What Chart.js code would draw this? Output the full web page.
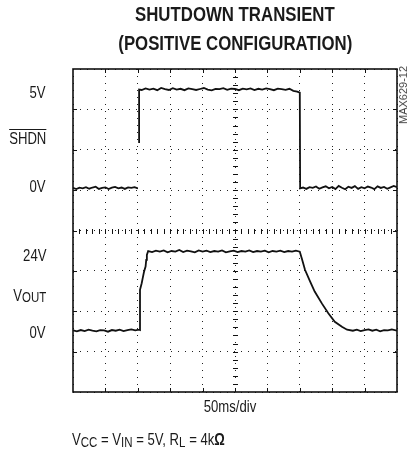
<!DOCTYPE html>
<html>
<head>
<meta charset="utf-8">
<script src="https://cdn.jsdelivr.net/npm/chart.js@4.4.0/dist/chart.umd.min.js"></script>
<style>
  html, body { margin: 0; padding: 0; background: #fff; }
  #wrap { position: relative; width: 412px; height: 454px; overflow: hidden; }
  canvas { position: absolute; left: 0; top: 0; }
  .txt { position: absolute; white-space: nowrap; font-family: "Liberation Sans", Arial, sans-serif; color: #1a1a1a; }
  .ctr { text-align: center; }
  .ctr span { display: inline-block; transform-origin: 50% 50%; }
  .lab { right: 366px; font-size: 16px; line-height: 16px; transform-origin: 100% 50%; transform: scaleX(.82); }
  .sub { font-size: 14px; position: relative; top: 2px; }
</style>
</head>
<body>
<div id="wrap">
  <canvas id="scope" width="412" height="454"></canvas>

  <div class="txt ctr" style="left:35px;width:400px;top:4px;font:bold 20px/20px 'Liberation Sans',Arial,sans-serif;"><span style="transform:scaleX(.84)">SHUTDOWN TRANSIENT</span></div>
  <div class="txt ctr" style="left:35px;width:400px;top:33px;font:bold 20px/20px 'Liberation Sans',Arial,sans-serif;"><span style="transform:scaleX(.84)">(POSITIVE CONFIGURATION)</span></div>

  <div class="txt lab" style="top:85px">5V</div>
  <div class="txt lab" style="top:131px;text-decoration:overline;text-decoration-thickness:1px;">SHDN</div>
  <div class="txt lab" style="top:179px">0V</div>
  <div class="txt lab" style="top:248px">24V</div>
  <div class="txt lab" style="top:288px">V<span class="sub" style="top:1px">OUT</span></div>
  <div class="txt lab" style="top:325px">0V</div>

  <div class="txt" style="left:398px;top:95px;font-size:11px;line-height:11px;color:#444;transform-origin:0 0;transform:rotate(-90deg) translate(-50%,0);">MAX629-12</div>

  <div class="txt ctr" style="left:30px;width:400px;top:399px;font-size:16px;line-height:16px;"><span style="transform:scaleX(.82)">50ms/div</span></div>
  <div class="txt" style="left:72px;top:432px;font-size:16px;line-height:16px;transform-origin:0 50%;transform:scaleX(.82);">V<span class="sub">CC</span> = V<span class="sub">IN</span> = 5V, R<span class="sub">L</span> = 4k<b>Ω</b></div>
</div>

<script>
// scope shot: 10 x 8 divisions, 50 ms/div
const X_MIN = 0, X_MAX = 500, X_STEP = 50;
const Y_DIVS = 8;

// SHDN channel (volts), trace ground sits at 5.05 div
const SHDN_ZERO_DIV = 5.045;
const SHDN_V_PER_DIV = 2.045;
const shdnTime = [
  0, 5, 10, 15, 20, 25, 30, 35, 40, 45, 50, 55, 60, 65, 70, 75, 80, 85, 90, 95, 100,
  101,
  102, 102,
  106, 112, 118, 124, 130, 136, 142, 148, 154, 160, 166, 172, 178, 184, 190, 196, 202, 208,
  214, 220, 226, 232, 238, 244, 250, 256, 262, 268, 274, 280, 286, 292, 298, 304, 310, 316,
  322, 328, 334, 340, 346, 350,
  350.5,
  355, 360, 365, 370, 375, 380, 385, 390, 395, 400, 405, 410, 415, 420, 425, 430, 435, 440,
  445, 450, 455, 460, 465, 470, 475, 480, 485, 490, 495, 500
];
const shdnVolts = [
  0.02, -0.04, 0.03, 0, 0.06, -0.02, 0.04, 0.08, -0.03, 0.02, 0.05, -0.04, 0.03, 0.07, 0, 0.04, -0.03, 0.05, 0.02, 0.06, 0,
  null,
  2.3, 5.0,
  4.98, 5.06, 5.0, 5.05, 4.97, 5.08, 5.02, 4.98, 5.07, 5.0, 5.04, 4.97, 5.06, 5.02, 4.98, 5.03, 5.08, 5.0,
  4.96, 5.04, 5.02, 5.07, 4.99, 5.05, 5.03, 4.97, 5.05, 5.01, 5.06, 4.98, 5.04, 5.0, 5.06, 5.02, 4.97, 5.05,
  5.02, 4.99, 5.04, 4.94, 4.9, 4.85,
  0.0,
  0.04, -0.03, 0.06, 0.02, 0.09, -0.02, 0.05, 0.1, 0, 0.07, -0.04, 0.12, 0.03, -0.05, 0.08, 0.02, 0.11, -0.03,
  0.06, 0, 0.09, 0.04, -0.04, 0.1, 0.02, 0.07, -0.02, 0.05, 0.12, 0.06
];

// VOUT channel (volts), trace ground sits at 1.52 div
const VOUT_ZERO_DIV = 1.518;
const VOUT_V_PER_DIV = 12.26;
const voutTime = [
  0, 6, 12, 18, 24, 30, 36, 42, 48, 54, 60, 66, 72, 78, 84, 90, 96, 102, 103.4,
  103.4, 106, 107.5, 109.6, 112, 113, 114, 116,
  122, 128, 134, 140, 146, 152, 158, 164, 170, 176, 182, 188, 194, 200, 206, 212, 218, 224,
  230, 236, 242, 248, 254, 260, 266, 272, 278, 284, 290, 296, 302, 308, 314, 320, 326, 332,
  338, 344, 350,
  353, 358, 366, 373, 384, 394, 404, 415, 423, 432,
  438, 444, 450, 456, 462, 468, 474, 480, 486, 492, 500
];
const voutVolts = [
  0.1, -0.2, 0.2, -0.1, 0.3, 0, -0.2, 0.2, 0.1, -0.3, 0.2, 0, 0.3, -0.1, 0.2, 0.4, 0.1, 0.3, 0.2,
  12.4, 14.4, 15.9, 17.9, 19.5, 21.5, 23.0, 24.2,
  23.9, 24.3, 24.0, 24.4, 23.8, 24.2, 24.0, 24.5, 23.9, 24.3, 24.1, 23.8, 24.4, 24.0, 24.3, 23.9, 24.2, 24.0,
  24.4, 23.8, 24.1, 24.3, 23.9, 24.2, 24.0, 24.4, 23.9, 24.2, 24.0, 24.3, 23.8, 24.2, 24.0, 24.3, 23.9, 24.2,
  24.0, 24.3, 24.0,
  22.0, 18.5, 14.9, 11.9, 8.3, 5.3, 2.7, 1.2, 0.3, 0.0,
  0.3, -0.1, 0.2, 0.4, 0, 0.3, -0.2, 0.2, 0.1, 0.4, 0
];

function toDivs(times, volts, zero, vPerDiv) {
  return times.map((t, i) => ({ x: t, y: volts[i] == null ? null : zero + volts[i] / vPerDiv }));
}

function traceSet(data) {
  return {
    data,
    borderColor: '#111',
    borderWidth: 1.8,
    pointRadius: 0,
    tension: 0,
    spanGaps: false,
    fill: false
  };
}

// frame + graticule centre ticks
const graticule = {
  id: 'graticule',
  beforeDatasetsDraw(chart) {
    const { ctx, chartArea: a, scales: { x, y } } = chart;
    ctx.save();
    ctx.strokeStyle = '#111';
    ctx.lineWidth = 1;
    const cx = Math.round(x.getPixelForValue((X_MIN + X_MAX) / 2)) + 0.5;
    const cy = Math.round(y.getPixelForValue(Y_DIVS / 2)) + 0.5;
    ctx.beginPath();
    for (let d = 0.2; d < Y_DIVS; d += 0.2) {
      const py = Math.round(y.getPixelForValue(d)) + 0.5;
      ctx.moveTo(cx - 2.5, py); ctx.lineTo(cx + 2.5, py);
    }
    for (let t = 10; t < X_MAX; t += 10) {
      const px = Math.round(x.getPixelForValue(t)) + 0.5;
      ctx.moveTo(px, cy - 2.5); ctx.lineTo(px, cy + 2.5);
    }
    // major ticks inward on the frame
    for (let t = X_STEP; t < X_MAX; t += X_STEP) {
      const px = Math.round(x.getPixelForValue(t)) + 0.5;
      ctx.moveTo(px, a.bottom); ctx.lineTo(px, a.bottom - 4);
      ctx.moveTo(px, a.top); ctx.lineTo(px, a.top + 4);
    }
    for (let d = 1; d < Y_DIVS; d++) {
      const py = Math.round(y.getPixelForValue(d)) + 0.5;
      ctx.moveTo(a.left, py); ctx.lineTo(a.left + 4, py);
      ctx.moveTo(a.right, py); ctx.lineTo(a.right - 4, py);
    }
    ctx.stroke();
    ctx.restore();
  },
  afterDraw(chart) {
    const { ctx, chartArea: a } = chart;
    ctx.save();
    ctx.strokeStyle = '#111';
    ctx.lineWidth = 1.6;
    ctx.strokeRect(a.left, a.top, a.right - a.left, a.bottom - a.top);
    ctx.restore();
  }
};

new Chart(document.getElementById('scope').getContext('2d'), {
  type: 'line',
  data: {
    datasets: [
      traceSet(toDivs(shdnTime, shdnVolts, SHDN_ZERO_DIV, SHDN_V_PER_DIV)),
      traceSet(toDivs(voutTime, voutVolts, VOUT_ZERO_DIV, VOUT_V_PER_DIV))
    ]
  },
  options: {
    responsive: false,
    animation: false,
    layout: { padding: { left: 73, right: 15, top: 69, bottom: 62 } },
    plugins: { legend: { display: false }, tooltip: { enabled: false } },
    scales: {
      x: {
        type: 'linear', min: X_MIN, max: X_MAX,
        ticks: { display: false, stepSize: X_STEP },
        grid: { color: '#222', lineWidth: 1, drawTicks: false },
        border: { display: false, dash: [1, 6] },
        afterFit: s => { s.height = 0; }
      },
      y: {
        type: 'linear', min: 0, max: Y_DIVS,
        ticks: { display: false, stepSize: 1 },
        grid: { color: '#222', lineWidth: 1, drawTicks: false },
        border: { display: false, dash: [1, 6] },
        afterFit: s => { s.width = 0; }
      }
    }
  },
  plugins: [graticule]
});
</script>
</body>
</html>
